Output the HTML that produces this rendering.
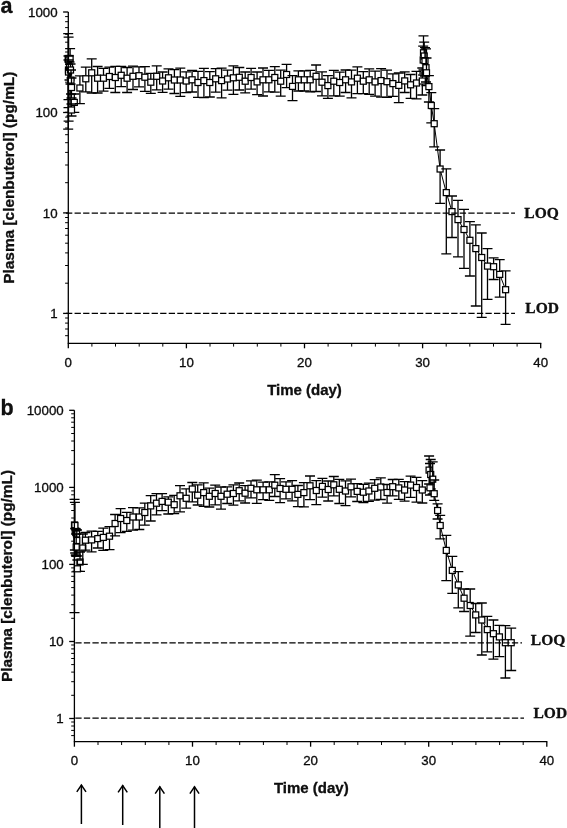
<!DOCTYPE html>
<html><head><meta charset="utf-8"><style>
html,body{margin:0;padding:0;background:#fff;overflow:hidden;}
svg{display:block;will-change:transform;}
text{stroke:#000;stroke-width:0.3px;}
</style></head><body>
<svg width="567" height="828" viewBox="0 0 567 828">
<rect width="567" height="828" fill="#fff"/>
<g stroke="#000" stroke-linecap="butt">
<path d="M423.2 60 L423.5 52.8 L424.2 56 L425 60.6 L426 67.7 L426.5 72.8 L428.9 86.6 L431.3 105.5 L434.2 123.7 L440.1 169 L446.3 192.6 L452 211.6 L458 219.6 L464 229.5 L469.9 240.3 L475.8 248.6 L481.7 257.5 L487.5 266.1 L493.6 266.7 L499.7 274.4 L505.6 289.7" fill="none" stroke-width="1"/>
<path d="M63.2 33.6H73.2M68.2 33.6V129.2M63.2 129.2H73.2" stroke-width="1.3"/>
<rect x="65.2" y="55.5" width="6.0" height="6.0" fill="#fff" stroke-width="1.25"/>
<path d="M63.6 37.1H73.6M68.6 37.1V121.1M63.6 121.1H73.6" stroke-width="1.3"/>
<rect x="65.6" y="57" width="6.0" height="6.0" fill="#fff" stroke-width="1.25"/>
<path d="M65.1 48.6H75.1M70.1 48.6V112.3M65.1 112.3H75.1" stroke-width="1.3"/>
<rect x="67.1" y="55.5" width="6.0" height="6.0" fill="#fff" stroke-width="1.25"/>
<path d="M63.5 56H73.5M68.5 56V107.7M63.5 107.7H73.5" stroke-width="1.3"/>
<rect x="65.5" y="67" width="6.0" height="6.0" fill="#fff" stroke-width="1.25"/>
<path d="M63.5 60H73.5M68.5 60V99.6M63.5 99.6H73.5" stroke-width="1.3"/>
<rect x="65.5" y="69" width="6.0" height="6.0" fill="#fff" stroke-width="1.25"/>
<path d="M64.5 62H74.5M69.5 62V80M64.5 80H74.5" stroke-width="1.3"/>
<rect x="66.5" y="64" width="6.0" height="6.0" fill="#fff" stroke-width="1.25"/>
<path d="M65.5 64H75.5M70.5 64V84M65.5 84H75.5" stroke-width="1.3"/>
<rect x="67.5" y="67" width="6.0" height="6.0" fill="#fff" stroke-width="1.25"/>
<path d="M66 70H76M71 70V94M66 94H76" stroke-width="1.3"/>
<rect x="68" y="77.1" width="6.0" height="6.0" fill="#fff" stroke-width="1.25"/>
<path d="M66.5 78H76.5M71.5 78V98M66.5 98H76.5" stroke-width="1.3"/>
<rect x="68.5" y="84.5" width="6.0" height="6.0" fill="#fff" stroke-width="1.25"/>
<path d="M69.3 94H79.3M74.3 94V112.3M69.3 112.3H79.3" stroke-width="1.3"/>
<rect x="71.3" y="99.4" width="6.0" height="6.0" fill="#fff" stroke-width="1.25"/>
<path d="M66.5 104H76.5M71.5 104V116M66.5 116H76.5" stroke-width="1.3"/>
<rect x="68.5" y="107" width="6.0" height="6.0" fill="#fff" stroke-width="1.25"/>
<path d="M74.9 75.8H84.9M79.9 75.8V103.6M74.9 103.6H84.9" stroke-width="1.3"/>
<rect x="76.9" y="85" width="6.0" height="6.0" fill="#fff" stroke-width="1.25"/>
<path d="M80.8 67.2H90.8M85.8 67.2V91.8M80.8 91.8H90.8" stroke-width="1.3"/>
<rect x="82.8" y="75.8" width="6.0" height="6.0" fill="#fff" stroke-width="1.25"/>
<path d="M86.7 58.8H96.7M91.7 58.8V93M86.7 93H96.7" stroke-width="1.3"/>
<rect x="88.7" y="69.8" width="6.0" height="6.0" fill="#fff" stroke-width="1.25"/>
<path d="M92.6 66.5H102.6M97.6 66.5V93M92.6 93H102.6" stroke-width="1.3"/>
<rect x="94.6" y="75.2" width="6.0" height="6.0" fill="#fff" stroke-width="1.25"/>
<path d="M98.5 68.3H108.5M103.5 68.3V91.1M98.5 91.1H108.5" stroke-width="1.3"/>
<rect x="100.5" y="75.2" width="6.0" height="6.0" fill="#fff" stroke-width="1.25"/>
<path d="M104.4 67.2H114.4M109.4 67.2V88.3M104.4 88.3H114.4" stroke-width="1.3"/>
<rect x="106.4" y="73.5" width="6.0" height="6.0" fill="#fff" stroke-width="1.25"/>
<path d="M110.3 66.3H120.3M115.3 66.3V92.5M110.3 92.5H120.3" stroke-width="1.3"/>
<rect x="112.3" y="74.5" width="6.0" height="6.0" fill="#fff" stroke-width="1.25"/>
<path d="M116.2 66.3H126.2M121.2 66.3V86.6M116.2 86.6H126.2" stroke-width="1.3"/>
<rect x="118.2" y="72.3" width="6.0" height="6.0" fill="#fff" stroke-width="1.25"/>
<path d="M122.1 67.5H132.1M127.1 67.5V92.5M122.1 92.5H132.1" stroke-width="1.3"/>
<rect x="124.1" y="75.2" width="6.0" height="6.0" fill="#fff" stroke-width="1.25"/>
<path d="M128 66.2H138M133 66.2V89.5M128 89.5H138" stroke-width="1.3"/>
<rect x="130" y="73.3" width="6.0" height="6.0" fill="#fff" stroke-width="1.25"/>
<path d="M134 66.8H144M139 66.8V86.9M134 86.9H144" stroke-width="1.3"/>
<rect x="136" y="72.7" width="6.0" height="6.0" fill="#fff" stroke-width="1.25"/>
<path d="M139.9 66.6H149.9M144.9 66.6V91.3M139.9 91.3H149.9" stroke-width="1.3"/>
<rect x="141.9" y="74.2" width="6.0" height="6.0" fill="#fff" stroke-width="1.25"/>
<path d="M145.8 73.4H155.8M150.8 73.4V93.3M145.8 93.3H155.8" stroke-width="1.3"/>
<rect x="147.8" y="79.2" width="6.0" height="6.0" fill="#fff" stroke-width="1.25"/>
<path d="M151.7 65.9H161.7M156.7 65.9V89.9M151.7 89.9H161.7" stroke-width="1.3"/>
<rect x="153.7" y="73.3" width="6.0" height="6.0" fill="#fff" stroke-width="1.25"/>
<path d="M157.6 72H167.6M162.6 72V92.3M157.6 92.3H167.6" stroke-width="1.3"/>
<rect x="159.6" y="78" width="6.0" height="6.0" fill="#fff" stroke-width="1.25"/>
<path d="M163.5 68.8H173.5M168.5 68.8V89.2M163.5 89.2H173.5" stroke-width="1.3"/>
<rect x="165.5" y="74.8" width="6.0" height="6.0" fill="#fff" stroke-width="1.25"/>
<path d="M169.4 69.7H179.4M174.4 69.7V93.5M169.4 93.5H179.4" stroke-width="1.3"/>
<rect x="171.4" y="77" width="6.0" height="6.0" fill="#fff" stroke-width="1.25"/>
<path d="M175.3 68.2H185.3M180.3 68.2V96.3M175.3 96.3H185.3" stroke-width="1.3"/>
<rect x="177.3" y="77" width="6.0" height="6.0" fill="#fff" stroke-width="1.25"/>
<path d="M181.2 71.8H191.2M186.2 71.8V92.6M181.2 92.6H191.2" stroke-width="1.3"/>
<rect x="183.2" y="78" width="6.0" height="6.0" fill="#fff" stroke-width="1.25"/>
<path d="M187.1 70.3H197.1M192.1 70.3V92M187.1 92H197.1" stroke-width="1.3"/>
<rect x="189.1" y="76.8" width="6.0" height="6.0" fill="#fff" stroke-width="1.25"/>
<path d="M193 71.4H203M198 71.4V97.4M193 97.4H203" stroke-width="1.3"/>
<rect x="195" y="79.5" width="6.0" height="6.0" fill="#fff" stroke-width="1.25"/>
<path d="M198.9 68.3H208.9M203.9 68.3V97.7M198.9 97.7H208.9" stroke-width="1.3"/>
<rect x="200.9" y="77.6" width="6.0" height="6.0" fill="#fff" stroke-width="1.25"/>
<path d="M204.8 71.6H214.8M209.8 71.6V97M204.8 97H214.8" stroke-width="1.3"/>
<rect x="206.8" y="79.5" width="6.0" height="6.0" fill="#fff" stroke-width="1.25"/>
<path d="M210.7 68.6H220.7M215.7 68.6V92.2M210.7 92.2H220.7" stroke-width="1.3"/>
<rect x="212.7" y="75.8" width="6.0" height="6.0" fill="#fff" stroke-width="1.25"/>
<path d="M216.6 68.2H226.6M221.6 68.2V97.9M216.6 97.9H226.6" stroke-width="1.3"/>
<rect x="218.6" y="77.6" width="6.0" height="6.0" fill="#fff" stroke-width="1.25"/>
<path d="M222.5 70.1H232.5M227.5 70.1V90.1M222.5 90.1H232.5" stroke-width="1.3"/>
<rect x="224.5" y="76" width="6.0" height="6.0" fill="#fff" stroke-width="1.25"/>
<path d="M228.4 65.9H238.4M233.4 65.9V94.3M228.4 94.3H238.4" stroke-width="1.3"/>
<rect x="230.4" y="74.8" width="6.0" height="6.0" fill="#fff" stroke-width="1.25"/>
<path d="M234.3 67.5H244.3M239.3 67.5V90M234.3 90H244.3" stroke-width="1.3"/>
<rect x="236.3" y="74.3" width="6.0" height="6.0" fill="#fff" stroke-width="1.25"/>
<path d="M240.2 72H250.2M245.2 72V92.9M240.2 92.9H250.2" stroke-width="1.3"/>
<rect x="242.2" y="78.2" width="6.0" height="6.0" fill="#fff" stroke-width="1.25"/>
<path d="M246.1 68.4H256.1M251.1 68.4V89.1M246.1 89.1H256.1" stroke-width="1.3"/>
<rect x="248.1" y="74.5" width="6.0" height="6.0" fill="#fff" stroke-width="1.25"/>
<path d="M252.1 72H262.1M257.1 72V94.7M252.1 94.7H262.1" stroke-width="1.3"/>
<rect x="254.1" y="78.9" width="6.0" height="6.0" fill="#fff" stroke-width="1.25"/>
<path d="M258 68H268M263 68V96M258 96H268" stroke-width="1.3"/>
<rect x="260" y="76.8" width="6.0" height="6.0" fill="#fff" stroke-width="1.25"/>
<path d="M263.9 70.4H273.9M268.9 70.4V91.8M263.9 91.8H273.9" stroke-width="1.3"/>
<rect x="265.9" y="76.8" width="6.0" height="6.0" fill="#fff" stroke-width="1.25"/>
<path d="M269.8 66.6H279.8M274.8 66.6V92.1M269.8 92.1H279.8" stroke-width="1.3"/>
<rect x="271.8" y="74.5" width="6.0" height="6.0" fill="#fff" stroke-width="1.25"/>
<path d="M275.7 70.1H285.7M280.7 70.1V96.2M275.7 96.2H285.7" stroke-width="1.3"/>
<rect x="277.7" y="78.2" width="6.0" height="6.0" fill="#fff" stroke-width="1.25"/>
<path d="M281.6 64.4H291.6M286.6 64.4V87.7M281.6 87.7H291.6" stroke-width="1.3"/>
<rect x="283.6" y="71.5" width="6.0" height="6.0" fill="#fff" stroke-width="1.25"/>
<path d="M287.5 75.6H297.5M292.5 75.6V100.7M287.5 100.7H297.5" stroke-width="1.3"/>
<rect x="289.5" y="83.4" width="6.0" height="6.0" fill="#fff" stroke-width="1.25"/>
<path d="M293.4 70.9H303.4M298.4 70.9V91M293.4 91H303.4" stroke-width="1.3"/>
<rect x="295.4" y="76.8" width="6.0" height="6.0" fill="#fff" stroke-width="1.25"/>
<path d="M299.3 70.9H309.3M304.3 70.9V91M299.3 91H309.3" stroke-width="1.3"/>
<rect x="301.3" y="76.8" width="6.0" height="6.0" fill="#fff" stroke-width="1.25"/>
<path d="M305.2 70.3H315.2M310.2 70.3V91.9M305.2 91.9H315.2" stroke-width="1.3"/>
<rect x="307.2" y="76.8" width="6.0" height="6.0" fill="#fff" stroke-width="1.25"/>
<path d="M311.1 65H321.1M316.1 65V91.5M311.1 91.5H321.1" stroke-width="1.3"/>
<rect x="313.1" y="73.3" width="6.0" height="6.0" fill="#fff" stroke-width="1.25"/>
<path d="M317 71.9H327M322 71.9V95.8M317 95.8H327" stroke-width="1.3"/>
<rect x="319" y="79.2" width="6.0" height="6.0" fill="#fff" stroke-width="1.25"/>
<path d="M322.9 75.7H332.9M327.9 75.7V98.4M322.9 98.4H332.9" stroke-width="1.3"/>
<rect x="324.9" y="82.6" width="6.0" height="6.0" fill="#fff" stroke-width="1.25"/>
<path d="M328.8 70.3H338.8M333.8 70.3V95.8M328.8 95.8H338.8" stroke-width="1.3"/>
<rect x="330.8" y="78.2" width="6.0" height="6.0" fill="#fff" stroke-width="1.25"/>
<path d="M334.7 72.1H344.7M339.7 72.1V96.2M334.7 96.2H344.7" stroke-width="1.3"/>
<rect x="336.7" y="79.5" width="6.0" height="6.0" fill="#fff" stroke-width="1.25"/>
<path d="M340.6 70H350.6M345.6 70V92.5M340.6 92.5H350.6" stroke-width="1.3"/>
<rect x="342.6" y="76.8" width="6.0" height="6.0" fill="#fff" stroke-width="1.25"/>
<path d="M346.5 70.2H356.5M351.5 70.2V97.9M346.5 97.9H356.5" stroke-width="1.3"/>
<rect x="348.5" y="78.9" width="6.0" height="6.0" fill="#fff" stroke-width="1.25"/>
<path d="M352.4 66.9H362.4M357.4 66.9V93.6M352.4 93.6H362.4" stroke-width="1.3"/>
<rect x="354.4" y="75.2" width="6.0" height="6.0" fill="#fff" stroke-width="1.25"/>
<path d="M358.3 71.6H368.3M363.3 71.6V93.6M358.3 93.6H368.3" stroke-width="1.3"/>
<rect x="360.3" y="78.2" width="6.0" height="6.0" fill="#fff" stroke-width="1.25"/>
<path d="M364.2 68.9H374.2M369.2 68.9V94.3M364.2 94.3H374.2" stroke-width="1.3"/>
<rect x="366.2" y="76.8" width="6.0" height="6.0" fill="#fff" stroke-width="1.25"/>
<path d="M370.1 71.2H380.1M375.1 71.2V96.1M370.1 96.1H380.1" stroke-width="1.3"/>
<rect x="372.1" y="78.9" width="6.0" height="6.0" fill="#fff" stroke-width="1.25"/>
<path d="M376.1 68.6H386.1M381.1 68.6V97.2M376.1 97.2H386.1" stroke-width="1.3"/>
<rect x="378.1" y="77.6" width="6.0" height="6.0" fill="#fff" stroke-width="1.25"/>
<path d="M382 70.2H392M387 70.2V97.3M382 97.3H392" stroke-width="1.3"/>
<rect x="384" y="78.7" width="6.0" height="6.0" fill="#fff" stroke-width="1.25"/>
<path d="M387.9 73.8H397.9M392.9 73.8V96.3M387.9 96.3H397.9" stroke-width="1.3"/>
<rect x="389.9" y="80.6" width="6.0" height="6.0" fill="#fff" stroke-width="1.25"/>
<path d="M393.8 73H403.8M398.8 73V102.7M393.8 102.7H403.8" stroke-width="1.3"/>
<rect x="395.8" y="82.4" width="6.0" height="6.0" fill="#fff" stroke-width="1.25"/>
<path d="M399.7 71.8H409.7M404.7 71.8V92.5M399.7 92.5H409.7" stroke-width="1.3"/>
<rect x="401.7" y="77.9" width="6.0" height="6.0" fill="#fff" stroke-width="1.25"/>
<path d="M405.6 74.5H415.6M410.6 74.5V98.3M405.6 98.3H415.6" stroke-width="1.3"/>
<rect x="407.6" y="81.8" width="6.0" height="6.0" fill="#fff" stroke-width="1.25"/>
<path d="M411.5 71.4H421.5M416.5 71.4V98.8M411.5 98.8H421.5" stroke-width="1.3"/>
<rect x="413.5" y="80" width="6.0" height="6.0" fill="#fff" stroke-width="1.25"/>
<path d="M417.3 68H427.3M422.3 68V95M417.3 95H427.3" stroke-width="1.3"/>
<rect x="419.3" y="78" width="6.0" height="6.0" fill="#fff" stroke-width="1.25"/>
<path d="M418.2 46.1H428.2M423.2 46.1V75M418.2 75H428.2" stroke-width="1.3"/>
<rect x="420.2" y="57" width="6.0" height="6.0" fill="#fff" stroke-width="1.25"/>
<path d="M418.5 35.9H428.5M423.5 35.9V70M418.5 70H428.5" stroke-width="1.3"/>
<rect x="420.5" y="49.8" width="6.0" height="6.0" fill="#fff" stroke-width="1.25"/>
<path d="M419.2 42.2H429.2M424.2 42.2V73M419.2 73H429.2" stroke-width="1.3"/>
<rect x="421.2" y="53" width="6.0" height="6.0" fill="#fff" stroke-width="1.25"/>
<path d="M420 47.7H430M425 47.7V76M420 76H430" stroke-width="1.3"/>
<rect x="422" y="57.6" width="6.0" height="6.0" fill="#fff" stroke-width="1.25"/>
<path d="M421 48.9H431M426 48.9V82M421 82H431" stroke-width="1.3"/>
<rect x="423" y="64.7" width="6.0" height="6.0" fill="#fff" stroke-width="1.25"/>
<path d="M421.5 58H431.5M426.5 58V85.5M421.5 85.5H431.5" stroke-width="1.3"/>
<rect x="423.5" y="69.8" width="6.0" height="6.0" fill="#fff" stroke-width="1.25"/>
<path d="M423.9 75.6H433.9M428.9 75.6V102M423.9 102H433.9" stroke-width="1.3"/>
<rect x="425.9" y="83.6" width="6.0" height="6.0" fill="#fff" stroke-width="1.25"/>
<path d="M426.3 92.6H436.3M431.3 92.6V122.8M426.3 122.8H436.3" stroke-width="1.3"/>
<rect x="428.3" y="102.5" width="6.0" height="6.0" fill="#fff" stroke-width="1.25"/>
<path d="M429.2 108.6H439.2M434.2 108.6V146.8M429.2 146.8H439.2" stroke-width="1.3"/>
<rect x="431.2" y="120.7" width="6.0" height="6.0" fill="#fff" stroke-width="1.25"/>
<path d="M435.1 150H445.1M440.1 150V203.4M435.1 203.4H445.1" stroke-width="1.3"/>
<rect x="437.1" y="166" width="6.0" height="6.0" fill="#fff" stroke-width="1.25"/>
<path d="M441.3 168.8H451.3M446.3 168.8V253.9M441.3 253.9H451.3" stroke-width="1.3"/>
<rect x="443.3" y="189.6" width="6.0" height="6.0" fill="#fff" stroke-width="1.25"/>
<path d="M447 196H457M452 196V237.5M447 237.5H457" stroke-width="1.3"/>
<rect x="449" y="208.6" width="6.0" height="6.0" fill="#fff" stroke-width="1.25"/>
<path d="M453 200.4H463M458 200.4V256.8M453 256.8H463" stroke-width="1.3"/>
<rect x="455" y="216.6" width="6.0" height="6.0" fill="#fff" stroke-width="1.25"/>
<path d="M459 209.4H469M464 209.4V268.4M459 268.4H469" stroke-width="1.3"/>
<rect x="461" y="226.5" width="6.0" height="6.0" fill="#fff" stroke-width="1.25"/>
<path d="M464.9 221.6H474.9M469.9 221.6V276M464.9 276H474.9" stroke-width="1.3"/>
<rect x="466.9" y="237.3" width="6.0" height="6.0" fill="#fff" stroke-width="1.25"/>
<path d="M470.8 224.8H480.8M475.8 224.8V306M470.8 306H480.8" stroke-width="1.3"/>
<rect x="472.8" y="245.6" width="6.0" height="6.0" fill="#fff" stroke-width="1.25"/>
<path d="M476.7 233H486.7M481.7 233V317.3M476.7 317.3H486.7" stroke-width="1.3"/>
<rect x="478.7" y="254.5" width="6.0" height="6.0" fill="#fff" stroke-width="1.25"/>
<path d="M482.5 248.6H492.5M487.5 248.6V299.4M482.5 299.4H492.5" stroke-width="1.3"/>
<rect x="484.5" y="263.1" width="6.0" height="6.0" fill="#fff" stroke-width="1.25"/>
<path d="M488.6 257.8H498.6M493.6 257.8V279.5M488.6 279.5H498.6" stroke-width="1.3"/>
<rect x="490.6" y="263.7" width="6.0" height="6.0" fill="#fff" stroke-width="1.25"/>
<path d="M494.7 259.7H504.7M499.7 259.7V297.2M494.7 297.2H504.7" stroke-width="1.3"/>
<rect x="496.7" y="271.4" width="6.0" height="6.0" fill="#fff" stroke-width="1.25"/>
<path d="M500.6 270.8H510.6M505.6 270.8V324.4M500.6 324.4H510.6" stroke-width="1.3"/>
<rect x="502.6" y="286.7" width="6.0" height="6.0" fill="#fff" stroke-width="1.25"/>
<path d="M429.1 470.1 L430.7 474.5 L432.7 479.2 L430 487.8 L434.2 493.7 L437.6 510.5 L440.2 525.5 L446.3 550.4 L452.3 570.4 L458.3 584.9 L464.1 598.2 L470.2 605.5 L475.7 614.9 L481.8 620 L487.3 629.6 L493.4 633.7 L499.4 636.9 L505.4 642.7 L511.2 642.7" fill="none" stroke-width="1"/>
<path d="M69.5 499.3H79.5M74.5 499.3V612.7M69.5 612.7H79.5" stroke-width="1.3"/>
<rect x="71.5" y="522" width="6.0" height="6.0" fill="#fff" stroke-width="1.25"/>
<path d="M70.2 528.5H80.2M75.2 528.5V553M70.2 553H80.2" stroke-width="1.3"/>
<rect x="72.2" y="528" width="6.0" height="6.0" fill="#fff" stroke-width="1.25"/>
<path d="M70.8 529H80.8M75.8 529V555M70.8 555H80.8" stroke-width="1.3"/>
<rect x="72.8" y="529.5" width="6.0" height="6.0" fill="#fff" stroke-width="1.25"/>
<path d="M71.5 530H81.5M76.5 530V556M71.5 556H81.5" stroke-width="1.3"/>
<rect x="73.5" y="531" width="6.0" height="6.0" fill="#fff" stroke-width="1.25"/>
<path d="M69.9 502.3H79.9M74.9 502.3V550M69.9 550H79.9" stroke-width="1.3"/>
<rect x="71.9" y="522.5" width="6.0" height="6.0" fill="#fff" stroke-width="1.25"/>
<path d="M71.8 530H81.8M76.8 530V555.8M71.8 555.8H81.8" stroke-width="1.3"/>
<rect x="73.8" y="537.5" width="6.0" height="6.0" fill="#fff" stroke-width="1.25"/>
<path d="M71.2 534H81.2M76.2 534V556M71.2 556H81.2" stroke-width="1.3"/>
<rect x="73.2" y="544" width="6.0" height="6.0" fill="#fff" stroke-width="1.25"/>
<path d="M75 552H85M80 552V571.4M75 571.4H85" stroke-width="1.3"/>
<rect x="77" y="559" width="6.0" height="6.0" fill="#fff" stroke-width="1.25"/>
<path d="M72.4 560H82.4M77.4 560V571.4M72.4 571.4H82.4" stroke-width="1.3"/>
<rect x="74.4" y="565.8" width="6.0" height="6.0" fill="#fff" stroke-width="1.25"/>
<path d="M77.8 534H87.8M82.8 534V564.3M77.8 564.3H87.8" stroke-width="1.3"/>
<rect x="79.8" y="545" width="6.0" height="6.0" fill="#fff" stroke-width="1.25"/>
<path d="M80.4 532.5H90.4M85.4 532.5V550.2M80.4 550.2H90.4" stroke-width="1.3"/>
<rect x="82.4" y="537.2" width="6.0" height="6.0" fill="#fff" stroke-width="1.25"/>
<path d="M86.6 531.2H96.6M91.6 531.2V551.8M86.6 551.8H96.6" stroke-width="1.3"/>
<rect x="88.6" y="536.9" width="6.0" height="6.0" fill="#fff" stroke-width="1.25"/>
<path d="M92.8 531.3H102.8M97.8 531.3V548M92.8 548H102.8" stroke-width="1.3"/>
<rect x="94.8" y="535.6" width="6.0" height="6.0" fill="#fff" stroke-width="1.25"/>
<path d="M98.3 528.1H108.3M103.3 528.1V550.3M98.3 550.3H108.3" stroke-width="1.3"/>
<rect x="100.3" y="534.4" width="6.0" height="6.0" fill="#fff" stroke-width="1.25"/>
<path d="M104.5 526.6H114.5M109.5 526.6V549.7M104.5 549.7H114.5" stroke-width="1.3"/>
<rect x="106.5" y="533.2" width="6.0" height="6.0" fill="#fff" stroke-width="1.25"/>
<path d="M110.1 514.5H120.1M115.1 514.5V535.9M110.1 535.9H120.1" stroke-width="1.3"/>
<rect x="112.1" y="520.5" width="6.0" height="6.0" fill="#fff" stroke-width="1.25"/>
<path d="M115.6 508.6H125.6M120.6 508.6V532.7M115.6 532.7H125.6" stroke-width="1.3"/>
<rect x="117.6" y="515.5" width="6.0" height="6.0" fill="#fff" stroke-width="1.25"/>
<path d="M121.8 512.3H131.8M126.8 512.3V531.4M121.8 531.4H131.8" stroke-width="1.3"/>
<rect x="123.8" y="517.5" width="6.0" height="6.0" fill="#fff" stroke-width="1.25"/>
<path d="M128 507.6H138M133 507.6V530.1M128 530.1H138" stroke-width="1.3"/>
<rect x="130" y="514" width="6.0" height="6.0" fill="#fff" stroke-width="1.25"/>
<path d="M134.3 507.9H144.3M139.3 507.9V529.5M134.3 529.5H144.3" stroke-width="1.3"/>
<rect x="136.3" y="514" width="6.0" height="6.0" fill="#fff" stroke-width="1.25"/>
<path d="M139.8 503.2H149.8M144.8 503.2V525.2M139.8 525.2H149.8" stroke-width="1.3"/>
<rect x="141.8" y="509.5" width="6.0" height="6.0" fill="#fff" stroke-width="1.25"/>
<path d="M145.7 495.6H155.7M150.7 495.6V521M145.7 521H155.7" stroke-width="1.3"/>
<rect x="147.7" y="502.9" width="6.0" height="6.0" fill="#fff" stroke-width="1.25"/>
<path d="M151.5 493.6H161.5M156.5 493.6V514.9M151.5 514.9H161.5" stroke-width="1.3"/>
<rect x="153.5" y="500.2" width="6.0" height="6.0" fill="#fff" stroke-width="1.25"/>
<path d="M157.1 493.6H167.1M162.1 493.6V510.6M157.1 510.6H167.1" stroke-width="1.3"/>
<rect x="159.1" y="498.4" width="6.0" height="6.0" fill="#fff" stroke-width="1.25"/>
<path d="M163.3 496.8H173.3M168.3 496.8V514M163.3 514H173.3" stroke-width="1.3"/>
<rect x="165.3" y="499.2" width="6.0" height="6.0" fill="#fff" stroke-width="1.25"/>
<path d="M169.2 495.4H179.2M174.2 495.4V513.7M169.2 513.7H179.2" stroke-width="1.3"/>
<rect x="171.2" y="501.7" width="6.0" height="6.0" fill="#fff" stroke-width="1.25"/>
<path d="M175 485.7H185M180 485.7V511.9M175 511.9H185" stroke-width="1.3"/>
<rect x="177" y="492.8" width="6.0" height="6.0" fill="#fff" stroke-width="1.25"/>
<path d="M181.2 488.9H191.2M186.2 488.9V508.1M181.2 508.1H191.2" stroke-width="1.3"/>
<rect x="183.2" y="495.3" width="6.0" height="6.0" fill="#fff" stroke-width="1.25"/>
<path d="M187.3 482.5H197.3M192.3 482.5V501.8M187.3 501.8H197.3" stroke-width="1.3"/>
<rect x="189.3" y="486" width="6.0" height="6.0" fill="#fff" stroke-width="1.25"/>
<path d="M192.7 484.9H202.7M197.7 484.9V505M192.7 505H202.7" stroke-width="1.3"/>
<rect x="194.7" y="492.2" width="6.0" height="6.0" fill="#fff" stroke-width="1.25"/>
<path d="M198.7 482.8H208.7M203.7 482.8V506.4M198.7 506.4H208.7" stroke-width="1.3"/>
<rect x="200.7" y="489.6" width="6.0" height="6.0" fill="#fff" stroke-width="1.25"/>
<path d="M204.3 488.2H214.3M209.3 488.2V507M204.3 507H214.3" stroke-width="1.3"/>
<rect x="206.3" y="493.3" width="6.0" height="6.0" fill="#fff" stroke-width="1.25"/>
<path d="M210.2 485.1H220.2M215.2 485.1V504.8M210.2 504.8H220.2" stroke-width="1.3"/>
<rect x="212.2" y="490.5" width="6.0" height="6.0" fill="#fff" stroke-width="1.25"/>
<path d="M216 487H226M221 487V509.2M216 509.2H226" stroke-width="1.3"/>
<rect x="218" y="493.3" width="6.0" height="6.0" fill="#fff" stroke-width="1.25"/>
<path d="M222.2 486.9H232.2M227.2 486.9V503.5M222.2 503.5H232.2" stroke-width="1.3"/>
<rect x="224.2" y="491.2" width="6.0" height="6.0" fill="#fff" stroke-width="1.25"/>
<path d="M228.4 484.8H238.4M233.4 484.8V505.2M228.4 505.2H238.4" stroke-width="1.3"/>
<rect x="230.4" y="490.5" width="6.0" height="6.0" fill="#fff" stroke-width="1.25"/>
<path d="M234.2 483H244.2M239.2 483V500.8M234.2 500.8H244.2" stroke-width="1.3"/>
<rect x="236.2" y="487.7" width="6.0" height="6.0" fill="#fff" stroke-width="1.25"/>
<path d="M240.1 485.6H250.1M245.1 485.6V503M240.1 503H250.1" stroke-width="1.3"/>
<rect x="242.1" y="490.2" width="6.0" height="6.0" fill="#fff" stroke-width="1.25"/>
<path d="M246 480.9H256M251 480.9V497.8M246 497.8H256" stroke-width="1.3"/>
<rect x="248" y="485.3" width="6.0" height="6.0" fill="#fff" stroke-width="1.25"/>
<path d="M251.8 480.2H261.8M256.8 480.2V503.3M251.8 503.3H261.8" stroke-width="1.3"/>
<rect x="253.8" y="486.8" width="6.0" height="6.0" fill="#fff" stroke-width="1.25"/>
<path d="M258.1 482.2H268.1M263.1 482.2V499.7M258.1 499.7H268.1" stroke-width="1.3"/>
<rect x="260.1" y="486.8" width="6.0" height="6.0" fill="#fff" stroke-width="1.25"/>
<path d="M264.3 481.8H274.3M269.3 481.8V500.3M264.3 500.3H274.3" stroke-width="1.3"/>
<rect x="266.3" y="486.8" width="6.0" height="6.0" fill="#fff" stroke-width="1.25"/>
<path d="M269.8 474.7H279.8M274.8 474.7V496.5M269.8 496.5H279.8" stroke-width="1.3"/>
<rect x="271.8" y="482.2" width="6.0" height="6.0" fill="#fff" stroke-width="1.25"/>
<path d="M275.1 478.6H285.1M280.1 478.6V502.6M275.1 502.6H285.1" stroke-width="1.3"/>
<rect x="277.1" y="485.5" width="6.0" height="6.0" fill="#fff" stroke-width="1.25"/>
<path d="M281 481.8H291M286 481.8V498.9M281 498.9H291" stroke-width="1.3"/>
<rect x="283" y="486.3" width="6.0" height="6.0" fill="#fff" stroke-width="1.25"/>
<path d="M287.1 480.7H297.1M292.1 480.7V500.9M287.1 500.9H297.1" stroke-width="1.3"/>
<rect x="289.1" y="486.3" width="6.0" height="6.0" fill="#fff" stroke-width="1.25"/>
<path d="M292.9 485.5H302.9M297.9 485.5V506.6M292.9 506.6H302.9" stroke-width="1.3"/>
<rect x="294.9" y="491.4" width="6.0" height="6.0" fill="#fff" stroke-width="1.25"/>
<path d="M298.9 482.7H308.9M303.9 482.7V506.8M298.9 506.8H308.9" stroke-width="1.3"/>
<rect x="300.9" y="489.6" width="6.0" height="6.0" fill="#fff" stroke-width="1.25"/>
<path d="M305 476H315M310 476V499.6M305 499.6H315" stroke-width="1.3"/>
<rect x="307" y="482.8" width="6.0" height="6.0" fill="#fff" stroke-width="1.25"/>
<path d="M311.3 480.6H321.3M316.3 480.6V504.6M311.3 504.6H321.3" stroke-width="1.3"/>
<rect x="313.3" y="487.5" width="6.0" height="6.0" fill="#fff" stroke-width="1.25"/>
<path d="M317.4 478.3H327.4M322.4 478.3V497.1M317.4 497.1H327.4" stroke-width="1.3"/>
<rect x="319.4" y="483.4" width="6.0" height="6.0" fill="#fff" stroke-width="1.25"/>
<path d="M323.2 481H333.2M328.2 481V501M323.2 501H333.2" stroke-width="1.3"/>
<rect x="325.2" y="486.5" width="6.0" height="6.0" fill="#fff" stroke-width="1.25"/>
<path d="M328.8 476.5H338.8M333.8 476.5V495.9M328.8 495.9H338.8" stroke-width="1.3"/>
<rect x="330.8" y="481.8" width="6.0" height="6.0" fill="#fff" stroke-width="1.25"/>
<path d="M334.3 479.4H344.3M339.3 479.4V503.5M334.3 503.5H344.3" stroke-width="1.3"/>
<rect x="336.3" y="486.3" width="6.0" height="6.0" fill="#fff" stroke-width="1.25"/>
<path d="M340.5 480.8H350.5M345.5 480.8V505.7M340.5 505.7H350.5" stroke-width="1.3"/>
<rect x="342.5" y="488" width="6.0" height="6.0" fill="#fff" stroke-width="1.25"/>
<path d="M346 479.1H356M351 479.1V496.8M346 496.8H356" stroke-width="1.3"/>
<rect x="348" y="483.8" width="6.0" height="6.0" fill="#fff" stroke-width="1.25"/>
<path d="M352.2 483.6H362.2M357.2 483.6V501.5M352.2 501.5H362.2" stroke-width="1.3"/>
<rect x="354.2" y="488.4" width="6.0" height="6.0" fill="#fff" stroke-width="1.25"/>
<path d="M358.4 484.3H368.4M363.4 484.3V502.6M358.4 502.6H368.4" stroke-width="1.3"/>
<rect x="360.4" y="489.2" width="6.0" height="6.0" fill="#fff" stroke-width="1.25"/>
<path d="M363.9 483.1H373.9M368.9 483.1V501.4M363.9 501.4H373.9" stroke-width="1.3"/>
<rect x="365.9" y="488" width="6.0" height="6.0" fill="#fff" stroke-width="1.25"/>
<path d="M369.7 479.6H379.7M374.7 479.6V500.1M369.7 500.1H379.7" stroke-width="1.3"/>
<rect x="371.7" y="485.3" width="6.0" height="6.0" fill="#fff" stroke-width="1.25"/>
<path d="M375.8 477.9H385.8M380.8 477.9V499.5M375.8 499.5H385.8" stroke-width="1.3"/>
<rect x="377.8" y="484" width="6.0" height="6.0" fill="#fff" stroke-width="1.25"/>
<path d="M382.1 484.5H392.1M387.1 484.5V503.1M382.1 503.1H392.1" stroke-width="1.3"/>
<rect x="384.1" y="489.5" width="6.0" height="6.0" fill="#fff" stroke-width="1.25"/>
<path d="M387.7 479.5H397.7M392.7 479.5V495.9M387.7 495.9H397.7" stroke-width="1.3"/>
<rect x="389.7" y="483.7" width="6.0" height="6.0" fill="#fff" stroke-width="1.25"/>
<path d="M393.8 479.4H403.8M398.8 479.4V499.4M393.8 499.4H403.8" stroke-width="1.3"/>
<rect x="395.8" y="484.9" width="6.0" height="6.0" fill="#fff" stroke-width="1.25"/>
<path d="M399.6 481.6H409.6M404.6 481.6V501.2M399.6 501.2H409.6" stroke-width="1.3"/>
<rect x="401.6" y="487" width="6.0" height="6.0" fill="#fff" stroke-width="1.25"/>
<path d="M405.6 476.1H415.6M410.6 476.1V497.4M405.6 497.4H415.6" stroke-width="1.3"/>
<rect x="407.6" y="482.1" width="6.0" height="6.0" fill="#fff" stroke-width="1.25"/>
<path d="M411.5 477.3H421.5M416.5 477.3V502.1M411.5 502.1H421.5" stroke-width="1.3"/>
<rect x="413.5" y="484.5" width="6.0" height="6.0" fill="#fff" stroke-width="1.25"/>
<path d="M417.3 480.6H427.3M422.3 480.6V503M417.3 503H427.3" stroke-width="1.3"/>
<rect x="419.3" y="487" width="6.0" height="6.0" fill="#fff" stroke-width="1.25"/>
<path d="M424.1 456H434.1M429.1 456V484M424.1 484H434.1" stroke-width="1.3"/>
<rect x="426.1" y="467.1" width="6.0" height="6.0" fill="#fff" stroke-width="1.25"/>
<path d="M425.7 459.5H435.7M430.7 459.5V489M425.7 489H435.7" stroke-width="1.3"/>
<rect x="427.7" y="471.5" width="6.0" height="6.0" fill="#fff" stroke-width="1.25"/>
<path d="M427.7 461.9H437.7M432.7 461.9V494M427.7 494H437.7" stroke-width="1.3"/>
<rect x="429.7" y="476.2" width="6.0" height="6.0" fill="#fff" stroke-width="1.25"/>
<path d="M425 463.5H435M430 463.5V495M425 495H435" stroke-width="1.3"/>
<rect x="427" y="484.8" width="6.0" height="6.0" fill="#fff" stroke-width="1.25"/>
<path d="M429.2 480H439.2M434.2 480V500.4M429.2 500.4H439.2" stroke-width="1.3"/>
<rect x="431.2" y="490.7" width="6.0" height="6.0" fill="#fff" stroke-width="1.25"/>
<path d="M432.6 503.8H442.6M437.6 503.8V519M432.6 519H442.6" stroke-width="1.3"/>
<rect x="434.6" y="507.5" width="6.0" height="6.0" fill="#fff" stroke-width="1.25"/>
<path d="M435.2 515.4H445.2M440.2 515.4V538.8M435.2 538.8H445.2" stroke-width="1.3"/>
<rect x="437.2" y="522.5" width="6.0" height="6.0" fill="#fff" stroke-width="1.25"/>
<path d="M441.3 535.4H451.3M446.3 535.4V580.6M441.3 580.6H451.3" stroke-width="1.3"/>
<rect x="443.3" y="547.4" width="6.0" height="6.0" fill="#fff" stroke-width="1.25"/>
<path d="M447.3 556.4H457.3M452.3 556.4V593.4M447.3 593.4H457.3" stroke-width="1.3"/>
<rect x="449.3" y="567.4" width="6.0" height="6.0" fill="#fff" stroke-width="1.25"/>
<path d="M453.3 571.6H463.3M458.3 571.6V607.9M453.3 607.9H463.3" stroke-width="1.3"/>
<rect x="455.3" y="581.9" width="6.0" height="6.0" fill="#fff" stroke-width="1.25"/>
<path d="M459.1 589H469.1M464.1 589V611.5M459.1 611.5H469.1" stroke-width="1.3"/>
<rect x="461.1" y="595.2" width="6.0" height="6.0" fill="#fff" stroke-width="1.25"/>
<path d="M465.2 589H475.2M470.2 589V636.1M465.2 636.1H475.2" stroke-width="1.3"/>
<rect x="467.2" y="602.5" width="6.0" height="6.0" fill="#fff" stroke-width="1.25"/>
<path d="M470.7 603.5H480.7M475.7 603.5V632.5M470.7 632.5H480.7" stroke-width="1.3"/>
<rect x="472.7" y="611.9" width="6.0" height="6.0" fill="#fff" stroke-width="1.25"/>
<path d="M476.8 603H486.8M481.8 603V655M476.8 655H486.8" stroke-width="1.3"/>
<rect x="478.8" y="617" width="6.0" height="6.0" fill="#fff" stroke-width="1.25"/>
<path d="M482.3 616.3H492.3M487.3 616.3V651.8M482.3 651.8H492.3" stroke-width="1.3"/>
<rect x="484.3" y="626.6" width="6.0" height="6.0" fill="#fff" stroke-width="1.25"/>
<path d="M488.4 620H498.4M493.4 620V659.1M488.4 659.1H498.4" stroke-width="1.3"/>
<rect x="490.4" y="630.7" width="6.0" height="6.0" fill="#fff" stroke-width="1.25"/>
<path d="M494.4 625.3H504.4M499.4 625.3V656.7M494.4 656.7H504.4" stroke-width="1.3"/>
<rect x="496.4" y="633.9" width="6.0" height="6.0" fill="#fff" stroke-width="1.25"/>
<path d="M500.4 625.7H510.4M505.4 625.7V678M500.4 678H510.4" stroke-width="1.3"/>
<rect x="502.4" y="639.7" width="6.0" height="6.0" fill="#fff" stroke-width="1.25"/>
<path d="M506.2 628.2H516.2M511.2 628.2V670.5M506.2 670.5H516.2" stroke-width="1.3"/>
<rect x="508.2" y="639.7" width="6.0" height="6.0" fill="#fff" stroke-width="1.25"/>
</g>
<g stroke="#000" fill="#111">
<line x1="68.3" y1="12" x2="68.3" y2="343.3" stroke-width="1.3"/>
<line x1="67.7" y1="343.3" x2="541.3" y2="343.3" stroke-width="1.3"/>
<line x1="63.1" y1="12" x2="68.3" y2="12" stroke-width="1.3"/>
<text x="57.6" y="16.5" font-size="13.3" text-anchor="end" font-weight="normal" font-family="Liberation Sans">1000</text>
<line x1="65.1" y1="82.2" x2="68.3" y2="82.2" stroke-width="1.0"/>
<line x1="65.1" y1="64.5" x2="68.3" y2="64.5" stroke-width="1.0"/>
<line x1="65.1" y1="52" x2="68.3" y2="52" stroke-width="1.0"/>
<line x1="65.1" y1="42.2" x2="68.3" y2="42.2" stroke-width="1.0"/>
<line x1="65.1" y1="34.3" x2="68.3" y2="34.3" stroke-width="1.0"/>
<line x1="65.1" y1="27.6" x2="68.3" y2="27.6" stroke-width="1.0"/>
<line x1="65.1" y1="21.7" x2="68.3" y2="21.7" stroke-width="1.0"/>
<line x1="65.1" y1="16.6" x2="68.3" y2="16.6" stroke-width="1.0"/>
<line x1="63.1" y1="112.5" x2="68.3" y2="112.5" stroke-width="1.3"/>
<text x="57.6" y="117" font-size="13.3" text-anchor="end" font-weight="normal" font-family="Liberation Sans">100</text>
<line x1="65.1" y1="182.7" x2="68.3" y2="182.7" stroke-width="1.0"/>
<line x1="65.1" y1="165" x2="68.3" y2="165" stroke-width="1.0"/>
<line x1="65.1" y1="152.4" x2="68.3" y2="152.4" stroke-width="1.0"/>
<line x1="65.1" y1="142.7" x2="68.3" y2="142.7" stroke-width="1.0"/>
<line x1="65.1" y1="134.7" x2="68.3" y2="134.7" stroke-width="1.0"/>
<line x1="65.1" y1="128" x2="68.3" y2="128" stroke-width="1.0"/>
<line x1="65.1" y1="122.2" x2="68.3" y2="122.2" stroke-width="1.0"/>
<line x1="65.1" y1="117.1" x2="68.3" y2="117.1" stroke-width="1.0"/>
<line x1="63.1" y1="212.9" x2="68.3" y2="212.9" stroke-width="1.3"/>
<text x="57.6" y="217.5" font-size="13.3" text-anchor="end" font-weight="normal" font-family="Liberation Sans">10</text>
<line x1="65.1" y1="283.2" x2="68.3" y2="283.2" stroke-width="1.0"/>
<line x1="65.1" y1="265.5" x2="68.3" y2="265.5" stroke-width="1.0"/>
<line x1="65.1" y1="252.9" x2="68.3" y2="252.9" stroke-width="1.0"/>
<line x1="65.1" y1="243.2" x2="68.3" y2="243.2" stroke-width="1.0"/>
<line x1="65.1" y1="235.2" x2="68.3" y2="235.2" stroke-width="1.0"/>
<line x1="65.1" y1="228.5" x2="68.3" y2="228.5" stroke-width="1.0"/>
<line x1="65.1" y1="222.7" x2="68.3" y2="222.7" stroke-width="1.0"/>
<line x1="65.1" y1="217.5" x2="68.3" y2="217.5" stroke-width="1.0"/>
<line x1="63.1" y1="313.4" x2="68.3" y2="313.4" stroke-width="1.3"/>
<text x="57.6" y="317.9" font-size="13.3" text-anchor="end" font-weight="normal" font-family="Liberation Sans">1</text>
<line x1="65.1" y1="335.7" x2="68.3" y2="335.7" stroke-width="1.0"/>
<line x1="65.1" y1="329" x2="68.3" y2="329" stroke-width="1.0"/>
<line x1="65.1" y1="323.1" x2="68.3" y2="323.1" stroke-width="1.0"/>
<line x1="65.1" y1="318" x2="68.3" y2="318" stroke-width="1.0"/>
<line x1="68.3" y1="343.3" x2="68.3" y2="348.3" stroke-width="1.3"/>
<text x="68.3" y="366.8" font-size="13.3" text-anchor="middle" font-weight="normal" font-family="Liberation Sans">0</text>
<line x1="91.9" y1="343.3" x2="91.9" y2="346.6" stroke-width="1.0"/>
<line x1="115.5" y1="343.3" x2="115.5" y2="346.6" stroke-width="1.0"/>
<line x1="139.2" y1="343.3" x2="139.2" y2="346.6" stroke-width="1.0"/>
<line x1="162.8" y1="343.3" x2="162.8" y2="346.6" stroke-width="1.0"/>
<line x1="186.4" y1="343.3" x2="186.4" y2="348.3" stroke-width="1.3"/>
<text x="186.4" y="366.8" font-size="13.3" text-anchor="middle" font-weight="normal" font-family="Liberation Sans">10</text>
<line x1="210" y1="343.3" x2="210" y2="346.6" stroke-width="1.0"/>
<line x1="233.6" y1="343.3" x2="233.6" y2="346.6" stroke-width="1.0"/>
<line x1="257.3" y1="343.3" x2="257.3" y2="346.6" stroke-width="1.0"/>
<line x1="280.9" y1="343.3" x2="280.9" y2="346.6" stroke-width="1.0"/>
<line x1="304.5" y1="343.3" x2="304.5" y2="348.3" stroke-width="1.3"/>
<text x="304.5" y="366.8" font-size="13.3" text-anchor="middle" font-weight="normal" font-family="Liberation Sans">20</text>
<line x1="328.1" y1="343.3" x2="328.1" y2="346.6" stroke-width="1.0"/>
<line x1="351.7" y1="343.3" x2="351.7" y2="346.6" stroke-width="1.0"/>
<line x1="375.4" y1="343.3" x2="375.4" y2="346.6" stroke-width="1.0"/>
<line x1="399" y1="343.3" x2="399" y2="346.6" stroke-width="1.0"/>
<line x1="422.6" y1="343.3" x2="422.6" y2="348.3" stroke-width="1.3"/>
<text x="422.6" y="366.8" font-size="13.3" text-anchor="middle" font-weight="normal" font-family="Liberation Sans">30</text>
<line x1="446.2" y1="343.3" x2="446.2" y2="346.6" stroke-width="1.0"/>
<line x1="469.8" y1="343.3" x2="469.8" y2="346.6" stroke-width="1.0"/>
<line x1="493.5" y1="343.3" x2="493.5" y2="346.6" stroke-width="1.0"/>
<line x1="517.1" y1="343.3" x2="517.1" y2="346.6" stroke-width="1.0"/>
<line x1="540.7" y1="343.3" x2="540.7" y2="348.3" stroke-width="1.3"/>
<text x="540.7" y="366.8" font-size="13.3" text-anchor="middle" font-weight="normal" font-family="Liberation Sans">40</text>
<text x="304.5" y="394.6" font-size="15" text-anchor="middle" font-weight="bold" font-family="Liberation Sans">Time (day)</text>
<text transform="translate(13.5,177.7) rotate(-90)" font-size="15.4" text-anchor="middle" font-weight="bold" font-family="Liberation Sans">Plasma [clenbuterol] (pg/mL)</text>
<text x="0.4" y="12.6" font-size="21.5" text-anchor="start" font-weight="bold" font-family="Liberation Sans">a</text>
<line x1="66" y1="213.2" x2="515" y2="213.2" stroke-width="1.2" stroke-dasharray="6.3 2.26"/>
<line x1="66" y1="313.4" x2="515" y2="313.4" stroke-width="1.2" stroke-dasharray="6.3 2.26"/>
<text x="524.3" y="218.4" font-size="15.5" text-anchor="start" font-weight="bold" font-family="Liberation Serif">LOQ</text>
<text x="525.3" y="312.5" font-size="15.5" text-anchor="start" font-weight="bold" font-family="Liberation Serif">LOD</text>
<line x1="74.4" y1="410.3" x2="74.4" y2="741.7" stroke-width="1.3"/>
<line x1="73.8" y1="741.7" x2="547.4" y2="741.7" stroke-width="1.3"/>
<line x1="69.2" y1="410.3" x2="74.4" y2="410.3" stroke-width="1.3"/>
<text x="63.7" y="414.9" font-size="13.3" text-anchor="end" font-weight="normal" font-family="Liberation Sans">10000</text>
<line x1="71.2" y1="464.2" x2="74.4" y2="464.2" stroke-width="1.0"/>
<line x1="71.2" y1="450.6" x2="74.4" y2="450.6" stroke-width="1.0"/>
<line x1="71.2" y1="441" x2="74.4" y2="441" stroke-width="1.0"/>
<line x1="71.2" y1="433.5" x2="74.4" y2="433.5" stroke-width="1.0"/>
<line x1="71.2" y1="427.4" x2="74.4" y2="427.4" stroke-width="1.0"/>
<line x1="71.2" y1="422.2" x2="74.4" y2="422.2" stroke-width="1.0"/>
<line x1="71.2" y1="417.8" x2="74.4" y2="417.8" stroke-width="1.0"/>
<line x1="71.2" y1="413.8" x2="74.4" y2="413.8" stroke-width="1.0"/>
<line x1="69.2" y1="487.4" x2="74.4" y2="487.4" stroke-width="1.3"/>
<text x="63.7" y="491.9" font-size="13.3" text-anchor="end" font-weight="normal" font-family="Liberation Sans">1000</text>
<line x1="71.2" y1="541.2" x2="74.4" y2="541.2" stroke-width="1.0"/>
<line x1="71.2" y1="527.6" x2="74.4" y2="527.6" stroke-width="1.0"/>
<line x1="71.2" y1="518" x2="74.4" y2="518" stroke-width="1.0"/>
<line x1="71.2" y1="510.5" x2="74.4" y2="510.5" stroke-width="1.0"/>
<line x1="71.2" y1="504.4" x2="74.4" y2="504.4" stroke-width="1.0"/>
<line x1="71.2" y1="499.3" x2="74.4" y2="499.3" stroke-width="1.0"/>
<line x1="71.2" y1="494.8" x2="74.4" y2="494.8" stroke-width="1.0"/>
<line x1="71.2" y1="490.9" x2="74.4" y2="490.9" stroke-width="1.0"/>
<line x1="69.2" y1="564.4" x2="74.4" y2="564.4" stroke-width="1.3"/>
<text x="63.7" y="568.9" font-size="13.3" text-anchor="end" font-weight="normal" font-family="Liberation Sans">100</text>
<line x1="71.2" y1="618.3" x2="74.4" y2="618.3" stroke-width="1.0"/>
<line x1="71.2" y1="604.7" x2="74.4" y2="604.7" stroke-width="1.0"/>
<line x1="71.2" y1="595.1" x2="74.4" y2="595.1" stroke-width="1.0"/>
<line x1="71.2" y1="587.6" x2="74.4" y2="587.6" stroke-width="1.0"/>
<line x1="71.2" y1="581.5" x2="74.4" y2="581.5" stroke-width="1.0"/>
<line x1="71.2" y1="576.3" x2="74.4" y2="576.3" stroke-width="1.0"/>
<line x1="71.2" y1="571.9" x2="74.4" y2="571.9" stroke-width="1.0"/>
<line x1="71.2" y1="567.9" x2="74.4" y2="567.9" stroke-width="1.0"/>
<line x1="69.2" y1="641.5" x2="74.4" y2="641.5" stroke-width="1.3"/>
<text x="63.7" y="646" font-size="13.3" text-anchor="end" font-weight="normal" font-family="Liberation Sans">10</text>
<line x1="71.2" y1="695.3" x2="74.4" y2="695.3" stroke-width="1.0"/>
<line x1="71.2" y1="681.7" x2="74.4" y2="681.7" stroke-width="1.0"/>
<line x1="71.2" y1="672.1" x2="74.4" y2="672.1" stroke-width="1.0"/>
<line x1="71.2" y1="664.6" x2="74.4" y2="664.6" stroke-width="1.0"/>
<line x1="71.2" y1="658.5" x2="74.4" y2="658.5" stroke-width="1.0"/>
<line x1="71.2" y1="653.4" x2="74.4" y2="653.4" stroke-width="1.0"/>
<line x1="71.2" y1="648.9" x2="74.4" y2="648.9" stroke-width="1.0"/>
<line x1="71.2" y1="645" x2="74.4" y2="645" stroke-width="1.0"/>
<line x1="69.2" y1="718.5" x2="74.4" y2="718.5" stroke-width="1.3"/>
<text x="63.7" y="723" font-size="13.3" text-anchor="end" font-weight="normal" font-family="Liberation Sans">1</text>
<line x1="71.2" y1="735.6" x2="74.4" y2="735.6" stroke-width="1.0"/>
<line x1="71.2" y1="730.4" x2="74.4" y2="730.4" stroke-width="1.0"/>
<line x1="71.2" y1="726" x2="74.4" y2="726" stroke-width="1.0"/>
<line x1="71.2" y1="722" x2="74.4" y2="722" stroke-width="1.0"/>
<line x1="74.4" y1="741.7" x2="74.4" y2="746.7" stroke-width="1.3"/>
<text x="74.4" y="765.3" font-size="13.3" text-anchor="middle" font-weight="normal" font-family="Liberation Sans">0</text>
<line x1="98" y1="741.7" x2="98" y2="745" stroke-width="1.0"/>
<line x1="121.6" y1="741.7" x2="121.6" y2="745" stroke-width="1.0"/>
<line x1="145.3" y1="741.7" x2="145.3" y2="745" stroke-width="1.0"/>
<line x1="168.9" y1="741.7" x2="168.9" y2="745" stroke-width="1.0"/>
<line x1="192.5" y1="741.7" x2="192.5" y2="746.7" stroke-width="1.3"/>
<text x="192.5" y="765.3" font-size="13.3" text-anchor="middle" font-weight="normal" font-family="Liberation Sans">10</text>
<line x1="216.1" y1="741.7" x2="216.1" y2="745" stroke-width="1.0"/>
<line x1="239.7" y1="741.7" x2="239.7" y2="745" stroke-width="1.0"/>
<line x1="263.4" y1="741.7" x2="263.4" y2="745" stroke-width="1.0"/>
<line x1="287" y1="741.7" x2="287" y2="745" stroke-width="1.0"/>
<line x1="310.6" y1="741.7" x2="310.6" y2="746.7" stroke-width="1.3"/>
<text x="310.6" y="765.3" font-size="13.3" text-anchor="middle" font-weight="normal" font-family="Liberation Sans">20</text>
<line x1="334.2" y1="741.7" x2="334.2" y2="745" stroke-width="1.0"/>
<line x1="357.8" y1="741.7" x2="357.8" y2="745" stroke-width="1.0"/>
<line x1="381.5" y1="741.7" x2="381.5" y2="745" stroke-width="1.0"/>
<line x1="405.1" y1="741.7" x2="405.1" y2="745" stroke-width="1.0"/>
<line x1="428.7" y1="741.7" x2="428.7" y2="746.7" stroke-width="1.3"/>
<text x="428.7" y="765.3" font-size="13.3" text-anchor="middle" font-weight="normal" font-family="Liberation Sans">30</text>
<line x1="452.3" y1="741.7" x2="452.3" y2="745" stroke-width="1.0"/>
<line x1="475.9" y1="741.7" x2="475.9" y2="745" stroke-width="1.0"/>
<line x1="499.6" y1="741.7" x2="499.6" y2="745" stroke-width="1.0"/>
<line x1="523.2" y1="741.7" x2="523.2" y2="745" stroke-width="1.0"/>
<line x1="546.8" y1="741.7" x2="546.8" y2="746.7" stroke-width="1.3"/>
<text x="546.8" y="765.3" font-size="13.3" text-anchor="middle" font-weight="normal" font-family="Liberation Sans">40</text>
<text x="311.3" y="792.5" font-size="15" text-anchor="middle" font-weight="bold" font-family="Liberation Sans">Time (day)</text>
<text transform="translate(12.1,576) rotate(-90)" font-size="15.4" text-anchor="middle" font-weight="bold" font-family="Liberation Sans">Plasma [clenbuterol] (pg/mL)</text>
<text x="0.4" y="415.2" font-size="21.5" text-anchor="start" font-weight="bold" font-family="Liberation Sans">b</text>
<line x1="75.3" y1="642.8" x2="522" y2="642.8" stroke-width="1.2" stroke-dasharray="6.3 2.26"/>
<line x1="75.3" y1="718.2" x2="524" y2="718.2" stroke-width="1.2" stroke-dasharray="6.3 2.26"/>
<text x="530.8" y="645.1" font-size="15.5" text-anchor="start" font-weight="bold" font-family="Liberation Serif">LOQ</text>
<text x="533.5" y="717.8" font-size="15.5" text-anchor="start" font-weight="bold" font-family="Liberation Serif">LOD</text>
</g>
<g stroke="#000" fill="none" stroke-width="1.5">
<line x1="81.4" y1="784.8" x2="81.4" y2="824"/>
<polyline points="76.8,791.9 81.4,785.1 86,791.9" stroke-linejoin="miter"/>
<line x1="122.7" y1="785.2" x2="122.7" y2="825"/>
<polyline points="118.1,792.3 122.7,785.5 127.3,792.3" stroke-linejoin="miter"/>
<line x1="159.8" y1="786.6" x2="159.8" y2="828"/>
<polyline points="155.2,793.7 159.8,786.9 164.4,793.7" stroke-linejoin="miter"/>
<line x1="194.5" y1="786.6" x2="194.5" y2="828"/>
<polyline points="189.9,793.7 194.5,786.9 199.1,793.7" stroke-linejoin="miter"/>
</g>
</svg>
</body></html>
